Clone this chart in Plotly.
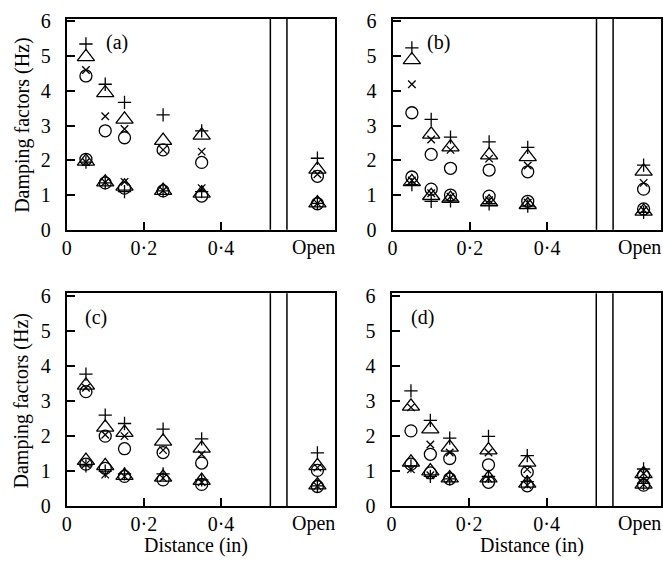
import plotly.graph_objects as go

# x positions (distance in inches); last one is the "Open" case
X_POS = [0.05, 0.10, 0.15, 0.25, 0.35, 0.65]
X_TICKS = [0, 0.2, 0.4]
X_TICKTEXT = ["0", "0·2", "0·4"]
Y_TICKS = [0, 1, 2, 3, 4, 5, 6]
PANEL_LABELS = ["(a)", "(b)", "(c)", "(d)"]
X_TITLE = "Distance (in)"
Y_TITLE = "Damping factors (Hz)"

# Panel (a)
A_PLUS_HI = [5.35, 4.19, 3.67, 3.31, 2.85, 2.06]
A_TRI_HI = [4.98, 3.94, 3.18, 2.57, 2.72, 1.74]
A_X_HI = [4.60, 3.27, 2.90, 2.30, 2.25, 1.60]
A_CIRC_HI = [4.43, 2.85, 2.65, 2.30, 1.94, 1.54]
A_PLUS_LO = [1.95, 1.35, 1.10, 1.12, 1.10, 0.76]
A_TRI_LO = [1.97, 1.37, 1.25, 1.13, 1.05, 0.77]
A_X_LO = [1.95, 1.37, 1.38, 1.13, 1.20, 0.76]
A_CIRC_LO = [2.03, 1.35, 1.20, 1.12, 0.97, 0.75]

# Panel (b)
B_PLUS_HI = [5.24, 3.18, 2.67, 2.53, 2.37, 1.86]
B_TRI_HI = [4.89, 2.75, 2.38, 2.15, 2.10, 1.68]
B_X_HI = [4.19, 2.60, 2.30, 2.05, 1.85, 1.35]
B_CIRC_HI = [3.37, 2.17, 1.77, 1.72, 1.67, 1.17]
B_PLUS_LO = [1.30, 0.82, 0.83, 0.75, 0.68, 0.50]
B_TRI_LO = [1.38, 0.98, 0.90, 0.80, 0.72, 0.53]
B_X_LO = [1.42, 1.05, 0.95, 0.85, 0.78, 0.57]
B_CIRC_LO = [1.52, 1.17, 1.00, 0.97, 0.82, 0.60]

# Panel (c)
C_PLUS_HI = [3.77, 2.60, 2.36, 2.20, 1.92, 1.52]
C_TRI_HI = [3.45, 2.25, 2.10, 1.85, 1.65, 1.15]
C_X_HI = [3.38, 2.04, 2.00, 1.60, 1.48, 1.10]
C_CIRC_HI = [3.27, 2.00, 1.64, 1.53, 1.23, 1.02]
C_PLUS_LO = [1.15, 1.00, 0.92, 0.92, 0.75, 0.58]
C_TRI_LO = [1.30, 1.15, 0.87, 0.82, 0.73, 0.60]
C_X_LO = [1.20, 0.90, 0.85, 0.80, 0.68, 0.57]
C_CIRC_LO = [1.20, 1.08, 0.85, 0.75, 0.62, 0.56]

# Panel (d)
D_PLUS_HI = [3.29, 2.45, 1.94, 1.99, 1.44, 1.06]
D_TRI_HI = [2.85, 2.20, 1.68, 1.60, 1.25, 0.92]
D_X_HI = [2.82, 1.76, 1.53, 1.53, 1.05, 0.93]
D_CIRC_HI = [2.15, 1.48, 1.36, 1.18, 0.97, 0.88]
D_PLUS_LO = [1.15, 0.85, 0.78, 0.85, 0.70, 0.65]
D_TRI_LO = [1.25, 1.00, 0.80, 0.80, 0.65, 0.62]
D_X_LO = [1.05, 0.88, 0.78, 0.78, 0.60, 0.62]
D_CIRC_LO = [1.20, 0.95, 0.78, 0.68, 0.58, 0.60]

PANELS = [
    (A_PLUS_HI, A_TRI_HI, A_X_HI, A_CIRC_HI, A_PLUS_LO, A_TRI_LO, A_X_LO, A_CIRC_LO),
    (B_PLUS_HI, B_TRI_HI, B_X_HI, B_CIRC_HI, B_PLUS_LO, B_TRI_LO, B_X_LO, B_CIRC_LO),
    (C_PLUS_HI, C_TRI_HI, C_X_HI, C_CIRC_HI, C_PLUS_LO, C_TRI_LO, C_X_LO, C_CIRC_LO),
    (D_PLUS_HI, D_TRI_HI, D_X_HI, D_CIRC_HI, D_PLUS_LO, D_TRI_LO, D_X_LO, D_CIRC_LO),
]

SYMBOLS = [("cross-thin-open", 9.5), ("triangle-up-open", 15), ("x-thin-open", 7.5), ("circle-open", 12)]

W, H = 663, 579
FONT = dict(family="Liberation Serif", size=20, color="black")

# pixel geometry of plot areas in the page: (left, right, top, bottom)
BOXES = [(62.3, 333.3, 11, 229.3), (391.7, 663, 11, 229.3),
         (62.3, 333.3, 295, 515), (390.7, 663, 295, 515)]
# page positions of axis titles
X_TITLE_POS = {2: (193, 556), 3: (533, 556)}
Y_TITLE_POS = {0: (17, 121), 2: (17, 406)}

fig = go.Figure()
layout = dict(width=W, height=H, margin=dict(l=0, r=0, t=0, b=0),
              plot_bgcolor="white", paper_bgcolor="white", font=FONT,
              showlegend=False, hovermode=False)
shapes = []
annotations = []

for i, (data, box) in enumerate(zip(PANELS, BOXES)):
    n = "" if i == 0 else str(i + 1)
    xa, ya = "x" + n, "y" + n
    for j, ys in enumerate(data):
        sym, sz = SYMBOLS[j % 4]
        fig.add_trace(go.Scatter(
            x=X_POS, y=ys, xaxis=xa, yaxis=ya, mode="markers",
            marker=dict(symbol=sym, size=sz, color="black",
                        line=dict(color="black", width=1.3)),
            cliponaxis=False))
    l, r, t, b = box
    layout["xaxis" + n] = dict(
        domain=[l / W, min(r / W, 1.0)], range=[0, 0.695], anchor=ya,
        tickvals=X_TICKS, ticktext=X_TICKTEXT, ticks="inside", ticklen=8,
        tickwidth=1.5, tickcolor="black", showline=True, linewidth=2,
        linecolor="black", mirror=True, showgrid=False, zeroline=False,
        tickfont=FONT, ticklabelstandoff=-1)
    layout["yaxis" + n] = dict(
        domain=[1 - b / H, 1 - t / H], range=[0, 6.08], anchor=xa,
        tickvals=Y_TICKS, ticks="inside", ticklen=8, tickwidth=1.5,
        tickcolor="black", showline=True, linewidth=2, linecolor="black",
        mirror=True, showgrid=False, zeroline=False, tickfont=FONT,
        ticklabelstandoff=10)
    for xv in (0.528, 0.571):
        shapes.append(dict(type="line", xref=xa, yref=ya + " domain",
                           x0=xv, x1=xv, y0=0, y1=1,
                           line=dict(color="black", width=1.5)))
    annotations.append(dict(text="Open", xref=xa, yref=ya + " domain",
                            x=0.64, y=0, yanchor="top", xanchor="center",
                            yshift=-4, showarrow=False, font=FONT))
    lx = [0.13, 0.12, 0.075, 0.08][i]
    annotations.append(dict(text=PANEL_LABELS[i], xref=xa, yref=ya,
                            x=lx, y=5.4, showarrow=False, font=FONT))
    if i in X_TITLE_POS:
        px, py = X_TITLE_POS[i]
        annotations.append(dict(text=X_TITLE, xref="paper", yref="paper",
                                x=px / W, y=1 - py / H,
                                xanchor="center", yanchor="middle",
                                showarrow=False, font=FONT))
    if i in Y_TITLE_POS:
        px, py = Y_TITLE_POS[i]
        annotations.append(dict(text=Y_TITLE, xref="paper", yref="paper",
                                x=px / W, y=1 - py / H,
                                xanchor="center", yanchor="middle",
                                textangle=-90, showarrow=False, font=FONT))

layout["shapes"] = shapes
layout["annotations"] = annotations
fig.update_layout(**layout)
# remove the browser's default 8 px body margin so the figure fills the window
fig.write_html("out.html", config={"displayModeBar": False},
               post_script="document.body.style.margin='0';document.body.style.overflow='hidden';")
